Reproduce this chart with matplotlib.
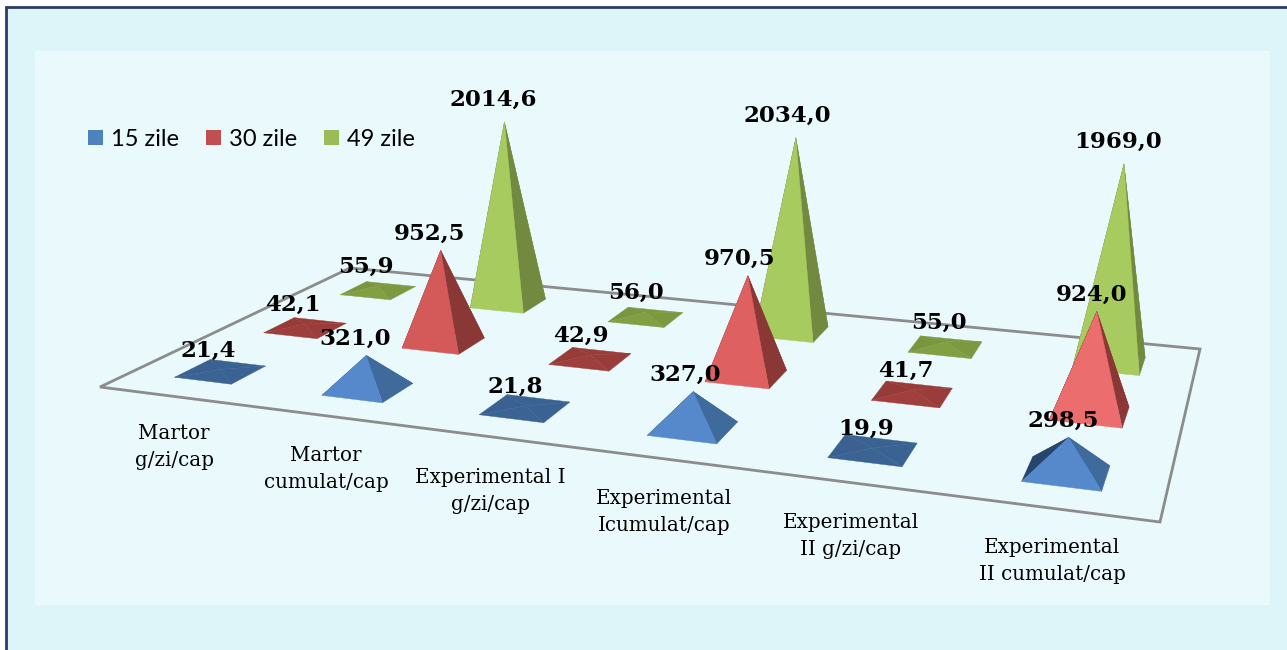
import numpy as np
import matplotlib
matplotlib.use('Agg')
import matplotlib.pyplot as plt
from matplotlib.patches import Polygon, Rectangle, Patch

categories = ['Martor\ng/zi/cap', 'Martor\ncumulat/cap', 'Experimental I\ng/zi/cap',
              'Experimental\nIcumulat/cap', 'Experimental\nII g/zi/cap', 'Experimental\nII cumulat/cap']
series_names = ['15 zile', '30 zile', '49 zile']
zile15 = [21.4, 321.0, 21.8, 327.0, 19.9, 298.5]
zile30 = [42.1, 952.5, 42.9, 970.5, 41.7, 924.0]
zile49 = [55.9, 2014.6, 56.0, 2034.0, 55.0, 1969.0]
series_values = [zile15, zile30, zile49]

# floor corners in pixels: front left, front right, back right, back left
floor = [(100, 387), (1160, 522), (1200, 349), (350, 268)]
cat_label_x = [174, 326, 490, 664, 851, 1052]
cat_label_y = [447, 469, 491, 512, 536, 561]
front_cols = ['#5589cb', '#d85c5c', '#a8cb60']
red_fronts = ['#d45a5a', '#d45a5a', '#de6060', '#de6060', '#ec6d6d', '#ec6d6d']
right_cols = ['#3f6a9c', '#8a3836', '#728a3f']
left_cols = ['#27456b', '#6b2b2a', '#5a6e32']
flat_cols = ['#3a6293', '#9a3c3a', '#7d9a40']
legend_cols = ['#4f81bd', '#c0504d', '#9bbb59']


def solve_homography(pts):
    src = [(0, 0), (1, 0), (1, 1), (0, 1)]
    A, b = [], []
    for (u, v), (x, y) in zip(src, pts):
        A.append([u, v, 1, 0, 0, 0, -u * x, -v * x])
        A.append([0, 0, 0, u, v, 1, -u * y, -v * y])
        b += [x, y]
    h = np.linalg.solve(np.array(A, float), np.array(b, float))
    return np.append(h, 1).reshape(3, 3)


H = solve_homography(floor)


def project(u, v, z=0):
    p = H @ np.array([u, v, 1.0])
    x, y = p[0] / p[2], p[1] / p[2]
    # z in chart units, bigger when nearer to the viewer
    dy = z * 0.105 / p[2]
    return x + (x - 640) * dy * 0.00016, y - dy


def mix(c1, c2, t):
    a = np.array(matplotlib.colors.to_rgb(c1))
    b = np.array(matplotlib.colors.to_rgb(c2))
    return tuple(a + (b - a) * t)


fig = plt.figure(figsize=(12.87, 6.5), dpi=100, facecolor='white')
ax = fig.add_axes([0, 0, 1, 1])
ax.set_xlim(0, 1287)
ax.set_ylim(650, 0)
ax.axis('off')

# the frame runs off the right and bottom of the picture
ax.add_patch(Rectangle((6, 7), 1400, 700, fc='#ddf5f9', ec='#2b3a66', lw=2, zorder=0))
ax.add_patch(Rectangle((35, 51), 1235, 554, fc='#e9f9fc', ec='none', zorder=0.5))
ax.add_patch(Polygon(floor, closed=True, fc='none', ec='#8c8c8c', lw=2, zorder=1))

half_u = 0.196 / 6
half_v = 0.19 / 3
tips = {}
zo = 2
for j in [2, 1, 0]:
    for i in range(6):
        val = series_values[j][i]
        u = (i + 0.5) / 6
        v = (j + 0.5) / 3
        fl = project(u - half_u, v - half_v)
        fr = project(u + half_u, v - half_v)
        br = project(u + half_u, v + half_v)
        bl = project(u - half_u, v + half_v)
        tip = project(u, v, val)
        tips[(i, j)] = tip
        # low pyramids are seen from above and look dark
        t = min(1, val / 250) ** 1.5
        base = red_fronts[i] if j == 1 else front_cols[j]
        front = mix(flat_cols[j], base, t)
        right = mix(flat_cols[j], right_cols[j], t)
        left = mix(flat_cols[j], left_cols[j], t)
        for pts, c in [([bl, br, tip], flat_cols[j]), ([fl, bl, tip], left),
                       ([fr, br, tip], right), ([fl, fr, tip], front)]:
            ax.add_patch(Polygon(pts, closed=True, fc=c, ec=c, lw=0.3, zorder=zo))
        zo += 1

for (i, j), tip in tips.items():
    val = series_values[j][i]
    shift = -13 + 8 * (i + 0.5) / 6
    gap = 22 if val > 1000 else (17 if val > 100 else 19)
    ax.text(tip[0] + shift, tip[1] - gap, f'{val:.1f}'.replace('.', ','),
            family='DejaVu Serif', weight='bold', fontsize=16.5, ha='center', va='center',
            color='black', zorder=50)

for name, x, y in zip(categories, cat_label_x, cat_label_y):
    ax.text(x, y, name, family='DejaVu Serif', fontsize=14.3, ha='center', va='center',
            linespacing=1.55, color='black', zorder=50)

handles = [Patch(fc=c, ec='none', label=n) for c, n in zip(legend_cols, series_names)]
ax.legend(handles=handles, loc='center left', bbox_to_anchor=(88 / 1287, 1 - 139.5 / 650),
          ncol=3, frameon=False, prop={'family': 'Lato', 'size': 17}, handlelength=0.635,
          handleheight=0.635, handletextpad=0.34, columnspacing=1.15, borderpad=0, borderaxespad=0)

fig.savefig('out.png', dpi=100)
